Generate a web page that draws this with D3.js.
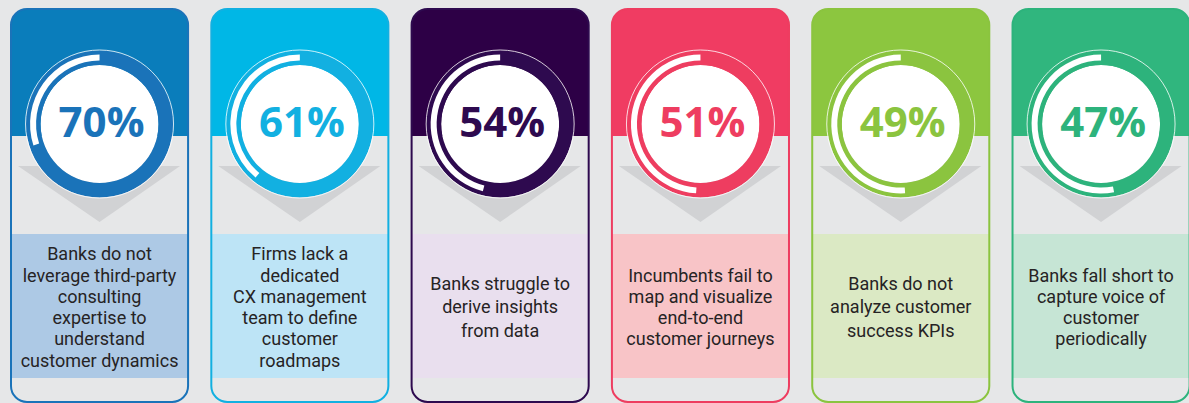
<!DOCTYPE html>
<html><head><meta charset="utf-8">
<script src="https://cdn.jsdelivr.net/npm/d3@7"></script>
<style>html,body{margin:0;padding:0;background:#e6e7e8;}svg{display:block;}</style>
</head><body>
<svg id="chart" width="1189" height="403"></svg>
<script>
// ---- data ----
const percentages = [70, 61, 54, 51, 49, 47];
const descriptions = [
  ["Banks do not", "leverage third-party", "consulting", "expertise to", "understand", "customer dynamics"],
  ["Firms lack a", "dedicated", "CX management", "team to define", "customer", "roadmaps"],
  ["Banks struggle to", "derive insights", "from data"],
  ["Incumbents fail to", "map and visualize", "end-to-end", "customer journeys"],
  ["Banks do not", "analyze customer", "success KPIs"],
  ["Banks fall short to", "capture voice of", "customer", "periodically"]
];
// ---- palette ----
const topColors  = ["#0a7dbb", "#00b7e6", "#2d0046", "#f03c62", "#8cc63f", "#30b67e"];
const ringColors = ["#1a73b9", "#12b0e1", "#2e0a4f", "#ee3d60", "#8bc43f", "#2db37c"];
const boxColors  = ["#adc9e5", "#bde4f6", "#e9dfee", "#f8c4c7", "#dbe9c4", "#c6e5d5"];

const W = 1189, H = 403;
const svg = d3.select("#chart");
svg.append("rect").attr("width", W).attr("height", H).attr("fill", "#e6e7e8");

const x = d3.scaleBand().domain(d3.range(percentages.length)).range([10, 1190.6]).paddingInner(0.106).paddingOuter(0);
const angle = d3.scaleLinear().domain([0, 100]).range([0, 2 * Math.PI]);
const bw = x.bandwidth();

const cardTop = 9, cardBottom = 402, headerBottom = 136, boxTop = 234, boxBottom = 378;
const cy = 124;
const defs = svg.append("defs");

const cards = svg.selectAll("g.card").data(percentages).join("g")
  .attr("class", "card")
  .attr("transform", (d, i) => `translate(${x(i)},0)`);

cards.each(function(p, i) {
  const g = d3.select(this);
  const cx = bw / 2;
  defs.append("clipPath").attr("id", "clip" + i)
    .append("rect").attr("x", 1).attr("y", cardTop).attr("width", bw - 2).attr("height", cardBottom - cardTop).attr("rx", 16);
  const inner = g.append("g").attr("clip-path", `url(#clip${i})`);
  inner.append("rect").attr("x", 0).attr("y", 0).attr("width", bw).attr("height", H).attr("fill", "#e6e7e8");
  inner.append("rect").attr("x", 0).attr("y", cardTop).attr("width", bw).attr("height", headerBottom - cardTop).attr("fill", topColors[i]);
  inner.append("path")
    .attr("d", `M${8},166 L${bw - 9},166 L${cx},222 Z`)
    .attr("fill", "#d1d2d4");
  inner.append("rect").attr("x", 0).attr("y", boxTop).attr("width", bw).attr("height", boxBottom - boxTop).attr("fill", boxColors[i]);
  g.append("rect").attr("x", 1).attr("y", cardTop).attr("width", bw - 2).attr("height", cardBottom - cardTop).attr("rx", 16)
    .attr("fill", "none").attr("stroke", ringColors[i]).attr("stroke-width", 2);

  // gauge
  const gauge = g.append("g").attr("transform", `translate(${cx},${cy})`);
  gauge.append("circle").attr("r", 59).attr("fill", "#ffffff");
  gauge.append("path")
    .attr("d", d3.arc().innerRadius(59).outerRadius(73.5).startAngle(0).endAngle(2 * Math.PI)())
    .attr("fill", ringColors[i]);
  gauge.append("path")
    .attr("d", d3.arc().innerRadius(63.5).outerRadius(69.5).startAngle(angle(p) - 2 * Math.PI).endAngle(0)())
    .attr("fill", "#ffffff");
  gauge.append("circle").attr("r", 74).attr("fill", "none").attr("stroke", "#ffffff").attr("stroke-opacity", 0.8).attr("stroke-width", 1);

  gauge.append("text")
    .attr("text-anchor", "middle").attr("x", 2).attr("y", 13)
    .attr("font-family", "'Open Sans', sans-serif").attr("font-weight", 700).attr("font-size", 42)
    .attr("fill", ringColors[i])
    .text(p + "%");

  // description
  const lines = descriptions[i];
  const lh = lines.length <= 3 ? 23.5 : 21.3, mid = 307, fs = 18;
  lines.forEach((ln, k) => {
    g.append("text")
      .attr("text-anchor", "middle")
      .attr("font-family", "Roboto, sans-serif").attr("font-size", fs)
      .attr("fill", "#262324")
      .attr("x", cx)
      .attr("y", mid + (k - (lines.length - 1) / 2) * lh + fs * 0.36)
      .text(ln);
  });
});
</script>
</body></html>
